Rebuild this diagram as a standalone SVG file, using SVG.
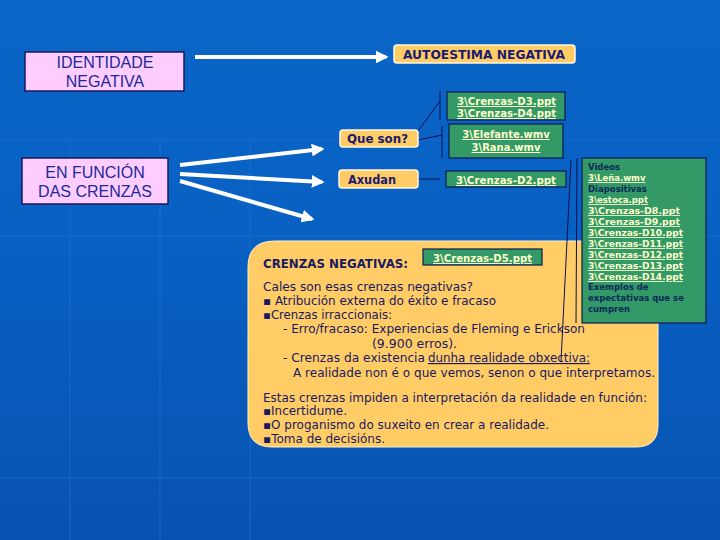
<svg xmlns="http://www.w3.org/2000/svg" width="720" height="540" viewBox="0 0 720 540">
<defs>
<linearGradient id="bg" x1="0" y1="0" x2="0" y2="1">
<stop offset="0" stop-color="#0a66c8"/>
<stop offset="0.5" stop-color="#085fc2"/>
<stop offset="1" stop-color="#0752b0"/>
</linearGradient>
<marker id="ah" viewBox="0 0 10 10" refX="8" refY="5" markerWidth="3.2" markerHeight="3.2" orient="auto" markerUnits="strokeWidth">
<path d="M0,0 L10,5 L0,10 z" fill="#ffffff"/>
</marker>
<style>
.big{fill:#ffccff;stroke:#1a1a5e;stroke-width:1.5}
.bigt{font-family:"Liberation Sans",Arial,sans-serif;font-size:16px;fill:#1a2a9a;text-anchor:middle}
.org{fill:#ffcc66;stroke:#fff6dc;stroke-width:1.5}
.orgt{font-family:"DejaVu Sans",Verdana,sans-serif;font-weight:bold;font-size:12px;fill:#1a1a70}
.grn{fill:#339966;stroke:#0a1a50;stroke-width:1.2}
.lnk{font-family:"DejaVu Sans",Verdana,sans-serif;font-weight:bold;font-size:10px;fill:#ffffcc;text-decoration:underline}
.lnks{font-family:"DejaVu Sans",Verdana,sans-serif;font-weight:bold;font-size:8.5px;fill:#ffffcc;text-decoration:underline}
.lbl{font-family:"DejaVu Sans",Verdana,sans-serif;font-weight:bold;font-size:8.5px;fill:#0a2a5a}
.arr{stroke:#ffffff;stroke-width:4;fill:none;marker-end:url(#ah)}
.thin{stroke:#0a1050;stroke-width:1;fill:none}
.bt{font-family:"DejaVu Sans",Verdana,sans-serif;font-size:11.5px;fill:#1a1a60}
</style>
</defs>
<rect width="720" height="540" fill="url(#bg)"/>
<g stroke="#2a7ad8" stroke-width="1" opacity="0.5">
<line x1="0" y1="140" x2="720" y2="140"/>
<line x1="0" y1="236" x2="720" y2="236"/>
<line x1="0" y1="478" x2="720" y2="478"/>
<line x1="70" y1="140" x2="70" y2="540"/>
<line x1="160" y1="140" x2="160" y2="540"/>
<line x1="250" y1="140" x2="250" y2="540"/>
</g>

<g id="connectors">
<line class="arr" x1="195" y1="57" x2="386" y2="57"/>
<line class="arr" x1="180" y1="165" x2="322" y2="149"/>
<line class="arr" x1="180" y1="174" x2="322" y2="182"/>
<line class="arr" x1="180" y1="181" x2="312" y2="219"/>
<line class="thin" x1="418" y1="131" x2="440" y2="101"/>
<line class="thin" x1="440" y1="91" x2="440" y2="120"/>
<line class="thin" x1="418" y1="140" x2="442" y2="135"/>
<line class="thin" x1="442" y1="126" x2="442" y2="158"/>
<line class="thin" x1="418" y1="179" x2="440" y2="179"/>
<line class="thin" x1="395" y1="258" x2="420" y2="258"/>
</g>

<g id="identidade">
<rect class="big" x="25" y="52" width="159" height="39"/>
<text class="bigt" x="105" y="68">IDENTIDADE</text>
<text class="bigt" x="105" y="87">NEGATIVA</text>
</g>

<g id="enfuncion">
<rect class="big" x="22" y="158" width="146" height="46"/>
<text class="bigt" x="95" y="178">EN FUNCIÓN</text>
<text class="bigt" x="95" y="197">DAS CRENZAS</text>
</g>

<g id="autoestima">
<rect class="org" x="394" y="45" width="181" height="18" rx="3"/>
<text class="orgt" x="403" y="59" textLength="162" lengthAdjust="spacingAndGlyphs">AUTOESTIMA NEGATIVA</text>
</g>

<g id="d3d4">
<rect class="grn" x="447" y="92" width="118" height="28"/>
<text class="lnk" x="457" y="105" textLength="99" lengthAdjust="spacingAndGlyphs">3\Crenzas-D3.ppt</text>
<text class="lnk" x="457" y="117" textLength="99" lengthAdjust="spacingAndGlyphs">3\Crenzas-D4.ppt</text>
</g>

<g id="queson">
<rect class="org" x="340" y="130" width="78" height="17" rx="3"/>
<text class="orgt" x="347" y="143" textLength="61" lengthAdjust="spacingAndGlyphs">Que son?</text>
</g>

<g id="elefante">
<rect class="grn" x="449" y="124" width="114" height="34"/>
<text class="lnk" x="506" y="138" text-anchor="middle">3\Elefante.wmv</text>
<text class="lnk" x="506" y="151" text-anchor="middle">3\Rana.wmv</text>
</g>

<g id="axudan">
<rect class="org" x="339" y="170" width="79" height="18" rx="3"/>
<text class="orgt" x="348" y="184" textLength="48" lengthAdjust="spacingAndGlyphs">Axudan</text>
</g>

<g id="d2">
<rect class="grn" x="446" y="171" width="120" height="16"/>
<text class="lnk" x="456" y="184" textLength="100" lengthAdjust="spacingAndGlyphs">3\Crenzas-D2.ppt</text>
</g>

<g id="crenzas-negativas">
<path d="M275,241 H658 V425 Q658,447 636,447 H272 Q248,447 248,423 V267 Q248,241 275,241 Z" fill="#ffcc66" stroke="#fff0c8" stroke-width="1"/>
<text class="bt" x="263" y="268" font-weight="bold" textLength="145" lengthAdjust="spacingAndGlyphs">CRENZAS NEGATIVAS:</text>
<text class="bt" x="263" y="291" textLength="210" lengthAdjust="spacingAndGlyphs">Cales son esas crenzas negativas?</text>
<text class="bt" x="263" y="305" textLength="233" lengthAdjust="spacingAndGlyphs">▪ Atribución externa do éxito e fracaso</text>
<text class="bt" x="263" y="319" textLength="129" lengthAdjust="spacingAndGlyphs">▪Crenzas irraccionais:</text>
<text class="bt" x="283" y="333" textLength="302" lengthAdjust="spacingAndGlyphs">- Erro/fracaso: Experiencias de Fleming e Erickson</text>
<text class="bt" x="372" y="348" textLength="85" lengthAdjust="spacingAndGlyphs">(9.900 erros).</text>
<text class="bt" x="283" y="362" textLength="142" lengthAdjust="spacingAndGlyphs">- Crenzas da existencia</text>
<text class="bt" x="428" y="362" text-decoration="underline" textLength="162" lengthAdjust="spacingAndGlyphs">dunha realidade obxectiva:</text>
<text class="bt" x="293" y="377" textLength="362" lengthAdjust="spacingAndGlyphs">A realidade non é o que vemos, senon o que interpretamos.</text>
<text class="bt" x="263" y="402" textLength="384" lengthAdjust="spacingAndGlyphs">Estas crenzas impiden a interpretación da realidade en función:</text>
<text class="bt" x="263" y="415" textLength="84" lengthAdjust="spacingAndGlyphs">▪Incertidume.</text>
<text class="bt" x="263" y="429" textLength="286" lengthAdjust="spacingAndGlyphs">▪O proganismo do suxeito en crear a realidade.</text>
<text class="bt" x="263" y="443" textLength="122" lengthAdjust="spacingAndGlyphs">▪Toma de decisións.</text>
</g>

<g id="d5">
<rect class="grn" x="423" y="249" width="119" height="16"/>
<text class="lnk" x="433" y="262" textLength="99" lengthAdjust="spacingAndGlyphs">3\Crenzas-D5.ppt</text>
</g>

<g id="recursos">
<rect class="grn" x="582" y="158" width="124" height="165"/>
<text class="lbl" x="588" y="170">Videos</text>
<text class="lnks" x="588" y="181">3\Leña.wmv</text>
<text class="lbl" x="588" y="192">Diapositivas</text>
<text class="lnks" x="588" y="203">3\estoca.ppt</text>
<text class="lnks" x="588" y="214" textLength="92" lengthAdjust="spacingAndGlyphs">3\Crenzas-D8.ppt</text>
<text class="lnks" x="588" y="225" textLength="92" lengthAdjust="spacingAndGlyphs">3\Crenzas-D9.ppt</text>
<text class="lnks" x="588" y="236" textLength="95" lengthAdjust="spacingAndGlyphs">3\Crenzas-D10.ppt</text>
<text class="lnks" x="588" y="247" textLength="95" lengthAdjust="spacingAndGlyphs">3\Crenzas-D11.ppt</text>
<text class="lnks" x="588" y="258" textLength="95" lengthAdjust="spacingAndGlyphs">3\Crenzas-D12.ppt</text>
<text class="lnks" x="588" y="269" textLength="95" lengthAdjust="spacingAndGlyphs">3\Crenzas-D13.ppt</text>
<text class="lnks" x="588" y="280" textLength="95" lengthAdjust="spacingAndGlyphs">3\Crenzas-D14.ppt</text>
<text class="lbl" x="588" y="290">Exemplos de</text>
<text class="lbl" x="588" y="301">expectativas que se</text>
<text class="lbl" x="588" y="312">cumpren</text>
</g>

<g id="connectors-right">
<line class="thin" x1="571" y1="160" x2="561" y2="362"/>
<line class="thin" x1="577" y1="158" x2="576" y2="323"/>
</g>
</svg>
